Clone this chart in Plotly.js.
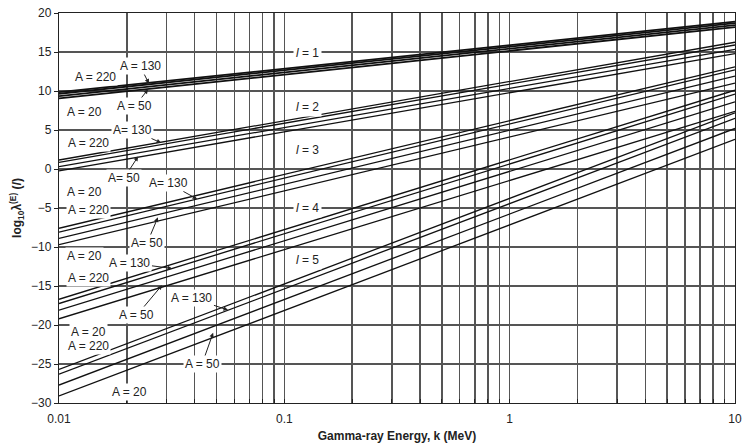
<!DOCTYPE html>
<html>
<head>
<meta charset="utf-8">
<script src="https://cdn.plot.ly/plotly-3.0.1.min.js"></script>
<style>
  html, body { margin: 0; padding: 0; background: #fff; }
  #chart { width: 743px; height: 445px; }
</style>
</head>
<body>
<div id="chart"></div>
<script>
// Gamma-ray energy range (MeV) at which each line is read
const energies = [0.01, 10];
// Mass numbers of the four lines in each multipole group
const massNumbers = [20, 50, 130, 220];
// log10 lambda(E) read at k = 0.01 MeV and k = 10 MeV, for A = 20, 50, 130, 220
const l1Start = [9.05, 9.35, 9.65, 9.85];
const l1End   = [18.2, 18.45, 18.7, 18.9];
const l2Start = [-0.25, 0.3, 0.85, 1.15];
const l2End   = [14.8, 15.35, 15.9, 16.25];
const l3Start = [-9.7, -8.9, -8.1, -7.6];
const l3End   = [11.0, 11.9, 12.7, 13.1];
const l4Start = [-19.2, -18.1, -17.25, -16.7];
const l4End   = [7.4, 8.6, 9.6, 10.1];
const l5Start = [-29.1, -27.7, -26.3, -25.7];
const l5End   = [3.8, 5.2, 6.5, 7.2];
// Axis ticks (vertical grid at every 1..9 multiple, labels on decades only)
const xGridVals = [0.01, 0.02, 0.03, 0.04, 0.05, 0.06, 0.07, 0.08, 0.09,
                   0.1, 0.2, 0.3, 0.4, 0.5, 0.6, 0.7, 0.8, 0.9,
                   1, 2, 3, 4, 5, 6, 7, 8, 9, 10];
const xGridText = ['0.01', '', '', '', '', '', '', '', '',
                   '0.1', '', '', '', '', '', '', '', '',
                   '1', '', '', '', '', '', '', '', '', '10'];
const yTickVals = [-30, -25, -20, -15, -10, -5, 0, 5, 10, 15, 20];

const groups = [
  {l: 1, s: l1Start, e: l1End},
  {l: 2, s: l2Start, e: l2End},
  {l: 3, s: l3Start, e: l3End},
  {l: 4, s: l4Start, e: l4End},
  {l: 5, s: l5Start, e: l5End}
];

const traces = [];
groups.forEach(g => {
  massNumbers.forEach((A, i) => {
    traces.push({
      type: 'scatter', mode: 'lines',
      x: energies, y: [g.s[i], g.e[i]],
      name: 'l=' + g.l + ', A=' + A,
      line: {color: '#111', width: g.l === 1 ? 1.8 : 1.3},
      hoverinfo: 'skip', showlegend: false
    });
  });
});

const FONT = 'Liberation Sans, Arial, Helvetica, sans-serif';
const ann = [];
function lab(text, x, y, tip) {
  const a = {
    text: text, xref: 'x', yref: 'y',
    font: {family: FONT, size: 12, color: '#222'},
    bgcolor: '#fff', borderpad: 1
  };
  if (tip) {
    a.x = tip[0]; a.y = tip[1];
    a.axref = 'x'; a.ayref = 'y'; a.ax = x; a.ay = y;
    a.showarrow = true; a.arrowhead = 2; a.arrowsize = 0.9; a.arrowwidth = 1; a.arrowcolor = '#222';
    a.standoff = 0; a.startstandoff = 0;
  } else {
    a.x = x; a.y = y; a.showarrow = false;
  }
  ann.push(a);
}
// l = 1 labels
lab('A = 220', -1.836, 11.8);
lab('A = 130', -1.640, 13.2, [-1.601, 10.95]);
lab('A = 20', -1.885, 7.31);
lab('A = 50', -1.663, 8.08, [-1.605, 10.2]);
// l = 2 labels
lab('A= 130', -1.672, 5.0, [-1.547, 3.35]);
lab('A = 220', -1.871, 3.33);
lab('A= 50', -1.711, -1.15, [-1.649, 1.6]);
lab('A = 20', -1.885, -2.95);
// l = 3 labels
lab('A= 130', -1.516, -1.79, [-1.387, -3.85]);
lab('A = 220', -1.871, -5.26);
lab('A= 50', -1.609, -9.49, [-1.561, -6.2]);
lab('A = 20', -1.885, -11.15);
// l = 4 labels
lab('A = 130', -1.685, -12.05, [-1.498, -12.75]);
lab('A = 220', -1.871, -13.97);
lab('A = 50', -1.654, -18.72, [-1.543, -14.9]);
lab('A = 20', -1.871, -20.9);
// l = 5 labels
lab('A = 130', -1.410, -16.54, [-1.250, -18.08]);
lab('A = 220', -1.871, -22.7);
lab('A = 50', -1.365, -25.0, [-1.316, -21.0]);
lab('A = 20', -1.685, -28.6);
// multipole order labels
const lY = [14.9, 7.95, 2.44, -5.0, -11.67];
lY.forEach((y, i) => {
  ann.push({
    text: '<i>l</i> = ' + (i + 1), x: -0.895, y: y, xref: 'x', yref: 'y', showarrow: false,
    font: {family: FONT, size: 12, color: '#222'}, bgcolor: '#fff', borderpad: 2
  });
});

const layout = {
  width: 743, height: 445,
  margin: {l: 59, r: 8, t: 13, b: 42},
  paper_bgcolor: '#fff', plot_bgcolor: '#fff',
  font: {family: FONT, size: 12, color: '#222'},
  showlegend: false,
  xaxis: {
    type: 'log', range: [-2, 1],
    tickmode: 'array', tickvals: xGridVals, ticktext: xGridText,
    showgrid: true, gridcolor: '#555', gridwidth: 1.5,
    showline: true, linecolor: '#222', linewidth: 1.2, mirror: true,
    ticks: 'inside', ticklen: 4, tickcolor: '#222',
    ticklabelstandoff: 4,
    tickfont: {family: FONT, size: 12, color: '#222'},
    zeroline: false,
    title: {text: '<b>Gamma-ray Energy, k (MeV)</b>', font: {family: FONT, size: 12, color: '#222'}, standoff: 7}
  },
  yaxis: {
    range: [-30, 20],
    tickmode: 'array', tickvals: yTickVals,
    showgrid: true, gridcolor: '#555', gridwidth: 1.5,
    showline: true, linecolor: '#222', linewidth: 1.2, mirror: true,
    ticks: 'outside', ticklen: 4, tickcolor: '#222',
    tickfont: {family: FONT, size: 12, color: '#222'},
    zeroline: false,
    title: {text: '<b>log<sub>10</sub>λ<sup>(E)</sup> (<i>l</i>)</b>', font: {family: FONT, size: 12, color: '#222'}, standoff: 6}
  },
  annotations: ann
};

Plotly.newPlot('chart', traces, layout, {staticPlot: true, displayModeBar: false});
</script>
</body>
</html>
